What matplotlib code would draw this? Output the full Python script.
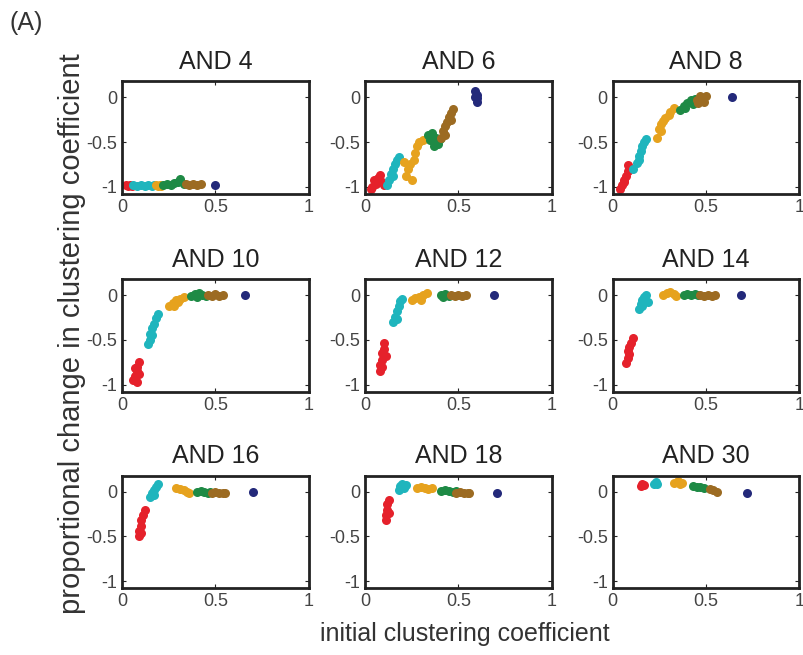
import numpy as np
from matplotlib import pyplot as plt

plt.rcParams['font.family'] = ['Liberation Sans', 'DejaVu Sans']

# group colours: red, cyan, orange, green, brown, navy
colors = ['#e5212b', '#1fb5bd', '#e6a21e', '#1e8a45', '#9c6b22', '#23297a']

titles = ['AND 4', 'AND 6', 'AND 8', 'AND 10', 'AND 12', 'AND 14',
          'AND 16', 'AND 18', 'AND 30']

# each panel: one list per colour group (red, cyan, orange, green, brown, navy)
and4_x = [[0.02, 0.03, 0.04, 0.05],
          [0.06, 0.08, 0.10, 0.12, 0.14, 0.16, 0.17],
          [0.18, 0.19, 0.20, 0.21],
          [0.22, 0.24, 0.26, 0.28, 0.30, 0.31, 0.33],
          [0.34, 0.36, 0.38, 0.40, 0.42],
          [0.50]]
and4_y = [[-0.98, -0.99, -0.98, -0.99],
          [-0.98, -0.99, -0.98, -0.99, -0.98, -0.99, -0.98],
          [-0.98, -0.99, -0.98, -0.99],
          [-0.98, -0.97, -0.98, -0.96, -0.95, -0.91, -0.97],
          [-0.97, -0.98, -0.97, -0.98, -0.97],
          [-0.98]]

and6_x = [[0.03, 0.04, 0.05, 0.06, 0.07, 0.08, 0.09, 0.10],
          [0.12, 0.13, 0.14, 0.15, 0.15, 0.16, 0.17, 0.18],
          [0.21, 0.22, 0.23, 0.24, 0.25, 0.26, 0.27, 0.28, 0.29, 0.31],
          [0.34, 0.35, 0.36, 0.37, 0.38, 0.39, 0.40],
          [0.41, 0.42, 0.43, 0.43, 0.44, 0.45, 0.46, 0.46, 0.47],
          [0.59, 0.60, 0.60, 0.60, 0.59]]
and6_y = [[-1.02, -1.00, -0.93, -0.97, -0.90, -0.87, -0.95, -0.98],
          [-0.98, -0.92, -0.86, -0.80, -0.88, -0.75, -0.70, -0.67],
          [-0.72, -0.88, -0.80, -0.75, -0.92, -0.70, -0.62, -0.55, -0.50, -0.48],
          [-0.42, -0.48, -0.40, -0.55, -0.45, -0.52, -0.47],
          [-0.45, -0.38, -0.32, -0.42, -0.28, -0.22, -0.17, -0.25, -0.13],
          [0.07, 0.03, -0.01, -0.05, 0.00]]

and8_x = [[0.04, 0.05, 0.06, 0.06, 0.07, 0.08, 0.08, 0.09],
          [0.11, 0.13, 0.14, 0.14, 0.15, 0.16, 0.17, 0.18],
          [0.24, 0.25, 0.26, 0.26, 0.27, 0.28, 0.30, 0.31, 0.33],
          [0.36, 0.38, 0.39, 0.40, 0.42, 0.43, 0.44],
          [0.45, 0.46, 0.47, 0.48, 0.49, 0.50],
          [0.64]]
and8_y = [[-1.02, -0.98, -0.93, -0.95, -0.88, -0.82, -0.76, -0.79],
          [-0.80, -0.73, -0.66, -0.70, -0.60, -0.55, -0.50, -0.47],
          [-0.45, -0.35, -0.30, -0.38, -0.27, -0.23, -0.20, -0.16, -0.12],
          [-0.14, -0.10, -0.12, -0.06, -0.03, -0.08, -0.02],
          [-0.03, -0.06, 0.02, -0.01, -0.05, 0.01],
          [0.00]]

and10_x = [[0.06, 0.07, 0.07, 0.08, 0.08, 0.08, 0.09, 0.09],
           [0.14, 0.15, 0.15, 0.16, 0.16, 0.17, 0.18, 0.19],
           [0.25, 0.27, 0.28, 0.29, 0.30, 0.31, 0.33],
           [0.37, 0.39, 0.40, 0.41, 0.43, 0.45],
           [0.46, 0.48, 0.50, 0.52, 0.54],
           [0.66]]
and10_y = [[-0.95, -0.90, -0.82, -0.85, -0.80, -0.97, -0.75, -0.88],
           [-0.55, -0.50, -0.43, -0.37, -0.45, -0.32, -0.26, -0.21],
           [-0.12, -0.09, -0.12, -0.06, -0.08, -0.04, -0.02],
           [-0.01, 0.01, -0.02, 0.02, 0.00, -0.01],
           [0.00, -0.01, 0.01, -0.01, 0.00],
           [0.00]]

and12_x = [[0.08, 0.08, 0.09, 0.09, 0.09, 0.10, 0.10, 0.11],
           [0.15, 0.16, 0.17, 0.17, 0.18, 0.19, 0.20],
           [0.25, 0.27, 0.29, 0.30, 0.31, 0.33],
           [0.41, 0.42, 0.43, 0.45],
           [0.46, 0.48, 0.50, 0.52, 0.54],
           [0.69]]
and12_y = [[-0.85, -0.78, -0.72, -0.65, -0.80, -0.60, -0.53, -0.68],
           [-0.30, -0.24, -0.18, -0.27, -0.12, -0.07, -0.04],
           [-0.05, -0.03, -0.02, -0.06, 0.00, 0.02],
           [0.00, -0.02, 0.01, -0.01],
           [0.00, -0.01, 0.00, -0.01, 0.00],
           [0.00]]

and14_x = [[0.07, 0.08, 0.08, 0.09, 0.09, 0.10, 0.11],
           [0.14, 0.15, 0.16, 0.16, 0.17, 0.18, 0.19],
           [0.27, 0.29, 0.31, 0.33, 0.34],
           [0.38, 0.40, 0.42, 0.44, 0.46],
           [0.47, 0.49, 0.51, 0.53, 0.55],
           [0.69]]
and14_y = [[-0.76, -0.70, -0.63, -0.58, -0.66, -0.53, -0.48],
           [-0.15, -0.10, -0.05, -0.12, -0.02, 0.00, -0.08],
           [0.00, 0.02, 0.03, 0.01, -0.01],
           [0.00, 0.01, 0.00, 0.01, 0.00],
           [0.00, -0.01, 0.00, -0.01, 0.00],
           [0.00]]

and16_x = [[0.09, 0.09, 0.10, 0.10, 0.10, 0.11, 0.12],
           [0.15, 0.16, 0.17, 0.17, 0.18, 0.19],
           [0.29, 0.31, 0.33, 0.35, 0.36],
           [0.40, 0.42, 0.44, 0.46, 0.47],
           [0.48, 0.50, 0.52, 0.54, 0.55],
           [0.70]]
and16_y = [[-0.50, -0.44, -0.38, -0.46, -0.32, -0.26, -0.20],
           [-0.06, -0.02, 0.02, -0.04, 0.05, 0.08],
           [0.04, 0.03, 0.02, 0.00, -0.01],
           [0.00, 0.01, 0.00, -0.01, 0.00],
           [-0.01, 0.00, -0.02, -0.01, -0.02],
           [0.00]]

and18_x = [[0.11, 0.11, 0.12, 0.12, 0.13, 0.13],
           [0.18, 0.19, 0.20, 0.21, 0.22],
           [0.28, 0.30, 0.32, 0.34, 0.36],
           [0.41, 0.43, 0.45, 0.47, 0.49],
           [0.49, 0.51, 0.53, 0.55, 0.56],
           [0.71]]
and18_y = [[-0.32, -0.26, -0.20, -0.14, -0.09, -0.24],
           [0.02, 0.06, 0.09, 0.04, 0.07],
           [0.04, 0.05, 0.04, 0.03, 0.04],
           [0.01, 0.02, 0.01, 0.00, 0.01],
           [-0.01, 0.00, -0.02, -0.01, -0.02],
           [-0.01]]

and30_x = [[0.15, 0.16, 0.17],
           [0.22, 0.23, 0.24],
           [0.33, 0.35, 0.36, 0.37],
           [0.43, 0.45, 0.47, 0.49],
           [0.52, 0.54, 0.56],
           [0.72]]
and30_y = [[0.06, 0.08, 0.07],
           [0.09, 0.11, 0.09],
           [0.10, 0.12, 0.08, 0.10],
           [0.06, 0.05, 0.05, 0.04],
           [0.03, 0.02, 0.00],
           [-0.01]]

panels_x = [and4_x, and6_x, and8_x, and10_x, and12_x, and14_x, and16_x, and18_x, and30_x]
panels_y = [and4_y, and6_y, and8_y, and10_y, and12_y, and14_y, and16_y, and18_y, and30_y]

fig = plt.figure(figsize=(8.04, 6.55), dpi=100)

lefts = [0.152, 0.454, 0.762]
bottoms = [0.704, 0.402, 0.102]
w, h = 0.232, 0.172

for i in range(9):
    ax = fig.add_axes([lefts[i % 3], bottoms[i // 3], w, h])
    for gx, gy, c in zip(panels_x[i], panels_y[i], colors):
        ax.plot(gx, gy, 'o', color=c, markersize=6.5, markeredgewidth=0)
    ax.set_xlim(0, 1)
    ax.set_ylim(-1.08, 0.18)
    ax.set_xticks([0, 0.5, 1])
    ax.set_xticklabels(['0', '0.5', '1'])
    ax.set_yticks([-1, -0.5, 0])
    ax.set_yticklabels(['-1', '-0.5', '0'])
    ax.tick_params(direction='in', length=3, width=0.8, labelsize=13,
                   top=True, right=True, colors='#222222', labelcolor='#444444')
    for s in ax.spines.values():
        s.set_linewidth(2)
        s.set_color('#222222')
    ax.set_title(titles[i], fontsize=18, color='#222222', pad=9)

fig.text(0.012, 0.965, '(A)', fontsize=18, color='#333333', va='center')
fig.text(0.09, 0.49, 'proportional change in clustering coefficient',
         rotation=90, fontsize=21, color='#333333', ha='center', va='center')
fig.text(0.578, 0.032, 'initial clustering coefficient',
         fontsize=18, color='#333333', ha='center', va='center')

plt.savefig('out.png', dpi=100)
